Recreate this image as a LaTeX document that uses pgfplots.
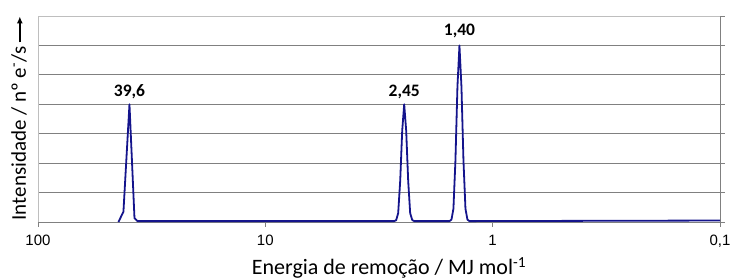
\documentclass[border=0pt]{standalone}
\usepackage{pgfplots}
\pgfplotsset{compat=1.18}
\usepackage{fontspec}
\setmainfont{Carlito}
\newfontfamily\arialf{Liberation Sans}
\usetikzlibrary{arrows.meta,calc}
\definecolor{navyline}{RGB}{20,20,140}
\definecolor{gridgray}{RGB}{128,128,128}
\definecolor{bordergray}{RGB}{190,190,190}
\begin{document}
\begin{tikzpicture}
\begin{axis}[
  scale only axis, width=682pt, height=206pt,
  xmode=log, x dir=reverse, xmin=0.1, xmax=100,
  ymin=0, ymax=7,
  axis line style={draw=none},
  xtick={0.1,1,10,100}, xticklabels={{0,1},1,10,100},
  xminorticks=false,
  xtick pos=bottom, ytick pos=right,
  tick align=outside, major tick length=5pt,
  tick style={gridgray, line width=0.8pt},
  ytick={1,...,6}, yticklabels={},
  extra y ticks={0,7}, extra y tick labels={}, extra y tick style={grid=none},
  ymajorgrids, major grid style={gridgray, line width=0.9pt},
  xticklabel style={font=\arialf\fontsize{15}{16}\selectfont, yshift=-4.5pt},
  clip=false,
]
\draw[bordergray, line width=0.8pt] (rel axis cs:0,0) -- (rel axis cs:0,1) -- (rel axis cs:1,1);
\draw[gridgray, line width=0.9pt] (rel axis cs:0,0) -- (rel axis cs:1,0);
\draw[gridgray, line width=0.9pt] (rel axis cs:1,0) -- (rel axis cs:1,1);
\addplot[navyline, line width=1.8pt, line join=round, mark=none] coordinates {
 (44.27,0) (42.09,0.35) (39.6,4) (37.64,0.13) (36.51,0.03)
 (2.713,0.03) (2.658,0.06) (2.604,0.3) (2.551,1.4) (2.500,3.1) (2.45,4)
 (2.401,3.1) (2.353,1.4) (2.306,0.3) (2.259,0.07) (2.214,0.03)
 (1.550,0.03) (1.518,0.08) (1.488,0.45) (1.458,2.1) (1.4287,4.6) (1.40,6)
 (1.3719,4.6) (1.3444,2.1) (1.3174,0.45) (1.2910,0.08) (1.2650,0.03)
 (0.1,0.05)
};
\node[anchor=base, font=\bfseries\fontsize{17.5}{20}\selectfont, yshift=8pt] at (axis cs:39.6,4) {39,6};
\node[anchor=base, font=\bfseries\fontsize{17.5}{20}\selectfont, yshift=8pt] at (axis cs:2.45,4) {2,45};
\node[anchor=base, font=\bfseries\fontsize{17.5}{20}\selectfont, yshift=10pt] at (axis cs:1.40,6) {1,40};
\coordinate (ll) at (rel axis cs:0,0);
\coordinate (ur) at (rel axis cs:1,1);
\end{axis}
\node[anchor=base, font=\fontsize{22}{24}\selectfont, inner sep=0pt] at ([xshift=10pt, yshift=-53pt]$(ll)!0.5!(ll -| ur)$) {Energia de remoção / MJ mol\textsuperscript{-1}};
\node[rotate=90, anchor=center, font=\fontsize{21}{24}\selectfont, inner sep=0pt] at ([xshift=-19pt, yshift=1pt]$(ll)!0.5!(ll |- ur)$) {Intensidade / nº e\textsuperscript{-}/s\,\tikz[baseline=-0.6ex]\draw[-{Latex[length=7pt,width=6pt]}, line width=1.5pt] (0,0)--(26pt,0);};
\pgfresetboundingbox
\path ([shift={(-38pt,-58pt)}]ll) rectangle ([shift={(11pt,16pt)}]ur);
\end{tikzpicture}
\end{document}
